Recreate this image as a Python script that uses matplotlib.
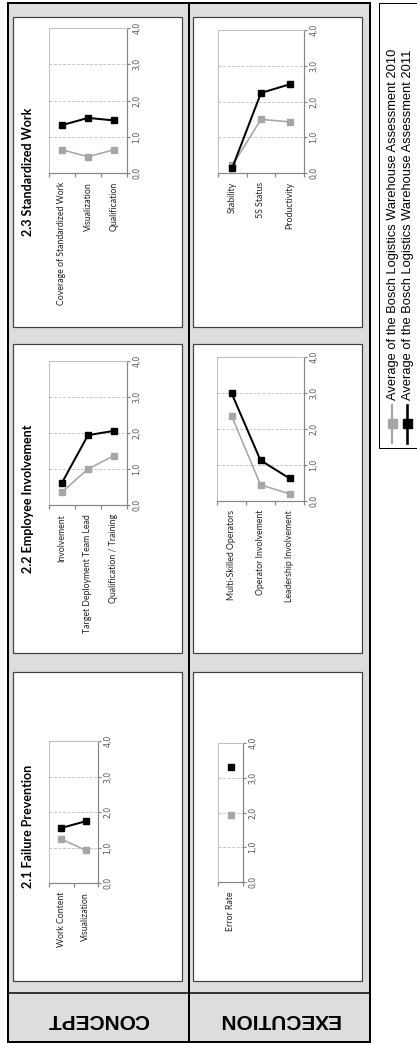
import numpy as np
import matplotlib.pyplot as plt
from matplotlib.patches import Rectangle
from matplotlib.lines import Line2D

W, H = 417, 1043
DPI = 100
PT = 72.0 / DPI  # points per pixel

# assessment scores (0..4), 2010 vs 2011
cats_c23 = ["Coverage of Standardized Work", "Visualization", "Qualification"]
c23_2010 = [0.64, 0.45, 0.64]
c23_2011 = [1.32, 1.52, 1.45]

cats_c22 = ["Involvement", "Target Deployment Team Lead", "Qualification / Training"]
c22_2010 = [0.36, 1.00, 1.37]
c22_2011 = [0.62, 1.94, 2.06]

cats_c21 = ["Work Content", "Visualization"]
c21_2010 = [1.24, 0.92]
c21_2011 = [1.55, 1.74]

cats_e23 = ["Stability", "5S Status", "Productivity"]
e23_2010 = [0.21, 1.50, 1.43]
e23_2011 = [0.15, 2.24, 2.48]

cats_e22 = ["Multi-Skilled Operators", "Operator Involvement", "Leadership Involvement"]
e22_2010 = [2.37, 0.45, 0.20]
e22_2011 = [3.00, 1.13, 0.63]

cats_e21 = ["Error Rate"]
e21_2010 = [1.94]
e21_2011 = [3.31]

value_ticks = [0, 1, 2, 3, 4]
value_labels = ["0,0", "1,0", "2,0", "3,0", "4,0"]
series_names = ["Average of the Bosch Logistics Warehouse Assessment 2010",
                "Average of the Bosch Logistics Warehouse Assessment 2011"]
row_names = ["CONCEPT", "EXECUTION"]

GREY_S = "#a6a6a6"
BLACK_S = "#000000"
CHART_FONT = "Lato"

fig = plt.figure(figsize=(W / DPI, H / DPI), dpi=DPI)

# background layer in pixel coordinates
bg = fig.add_axes([0, 0, 1, 1])
bg.set_xlim(0, W)
bg.set_ylim(H, 0)
bg.axis("off")

bg.add_patch(Rectangle((8, 3), 362, 1039, facecolor="#dddddd", edgecolor="black", lw=2 * PT))
bg.plot([189, 189], [3, 1042], color="black", lw=2 * PT)
bg.plot([8, 370], [993, 993], color="black", lw=1.5 * PT)

for x0 in (13, 193):
    for y0, y1 in ((17, 327), (344, 653), (672, 981)):
        bg.add_patch(Rectangle((x0, y0), 169, y1 - y0, facecolor="white",
                               edgecolor="#404040", lw=1.2 * PT))

for name, xc in zip(row_names, (98, 279)):
    bg.text(xc, 1019, name, rotation=180, ha="center", va="center",
            fontsize=15, fontweight="bold", family="Liberation Sans")

# legend box on the right
bg.add_patch(Rectangle((379, 3), 50, 445, facecolor="white", edgecolor="black", lw=1 * PT))
for name, col, lx, lw in zip(series_names, (GREY_S, BLACK_S), (392, 407), (2.2, 2.6)):
    bg.add_line(Line2D([lx, lx], [405, 443], color=col, lw=lw * PT))
    bg.add_line(Line2D([lx], [423], marker="s", color=col, ms=9 * PT, lw=0))
    bg.text(lx + 1, 400, name, rotation=90, ha="center", va="bottom",
            fontsize=9.3, family="Liberation Sans")


def mini_chart(box, cats, v2010, v2011, title=None, title_pos=None):
    x0, y0, x1, y1 = box
    ax = fig.add_axes([x0 / W, 1 - y1 / H, (x1 - x0) / W, (y1 - y0) / H])
    x = np.arange(len(cats))
    ax.plot(x, v2010, color=GREY_S, lw=1.6 * PT, marker="s", ms=6.5 * PT, zorder=3)
    ax.plot(x, v2011, color=BLACK_S, lw=2 * PT, marker="s", ms=6.5 * PT, zorder=4)
    ax.set_xlim(-0.5, len(cats) - 0.5)
    ax.set_ylim(0, 4)

    ax.set_xticks(x, cats, rotation=90, fontsize=6.3, family=CHART_FONT, color="#222222")
    ax.set_xticks(np.arange(len(cats) + 1) - 0.5, minor=True)
    ax.tick_params(axis="x", which="major", length=0, pad=6.5)
    ax.tick_params(axis="x", which="minor", length=4 * PT, color="#868686", width=1.2 * PT)

    ax.yaxis.tick_right()
    ax.set_yticks(value_ticks, value_labels, rotation=90, fontsize=5.6,
                  family="DejaVu Sans Condensed", color="#555555")
    ax.tick_params(axis="y", length=3 * PT, pad=1.5, color="#868686", width=1.2 * PT)
    for lbl in ax.get_yticklabels():
        lbl.set_va("center")

    ax.grid(axis="y", color="#c8c8c8", lw=1 * PT, linestyle=(0, (3, 1.5)))
    ax.set_axisbelow(True)
    for side in ("top", "left"):
        ax.spines[side].set_color("#c0c0c0")
        ax.spines[side].set_linewidth(1 * PT)
    for side in ("bottom", "right"):
        ax.spines[side].set_color("#868686")
        ax.spines[side].set_linewidth(1.2 * PT)

    if title:
        bg.text(title_pos[0], title_pos[1], title, rotation=90, ha="center", va="center",
                fontsize=9, fontweight="bold", family=CHART_FONT)
    return ax


mini_chart((49, 28, 127, 173), cats_c23, c23_2010, c23_2011,
           "2.3 Standardized Work", (28, 172))
mini_chart((218, 30, 304, 173), cats_e23, e23_2010, e23_2011)
mini_chart((49, 361, 127, 505), cats_c22, c22_2010, c22_2011,
           "2.2 Employee Involvement", (28, 499))
mini_chart((217, 357, 304, 501), cats_e22, e22_2010, e22_2011)
mini_chart((49, 741, 98, 883), cats_c21, c21_2010, c21_2011,
           "2.1 Failure Prevention", (28, 826))
mini_chart((218, 743, 243, 882), cats_e21, e21_2010, e21_2011)

fig.savefig("out.png", dpi=DPI)
